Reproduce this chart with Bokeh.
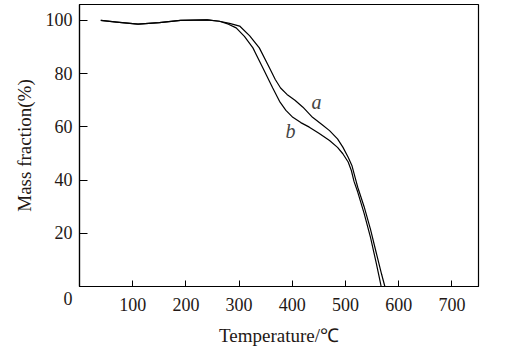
from bokeh.plotting import figure
from bokeh.models import Range1d, FixedTicker, Label
from bokeh.embed import file_html
from bokeh.resources import INLINE

# Curve a
temp_a = [40, 70, 110, 150, 190, 240, 263, 282, 301, 320, 338, 357, 368, 378, 390,
          405, 420, 438, 455, 470, 485, 495, 505, 512, 518, 523, 535, 547, 558, 568, 574]
mass_a = [100, 99.4, 98.6, 99.2, 100, 100.2, 99.7, 98.9, 97.9, 94.2, 89.7, 82.2, 77.8, 74.6, 72.2,
          70, 67.4, 63.6, 61, 58.6, 55.5, 52.4, 48.6, 45.5, 41, 37.3, 30, 21.5, 12.5, 4.5, 0]
# Curve b
temp_b = [40, 70, 110, 150, 190, 240, 263, 280, 294.5, 310, 326, 344.5, 363, 376, 388,
          401, 416, 432, 450, 470, 485, 495, 505, 511, 516, 523, 535, 547, 557, 564, 567]
mass_b = [100, 99.4, 98.6, 99.2, 100, 100.2, 99.7, 98.6, 97.2, 94, 89.7, 82.2, 74.7, 69.6, 66.2,
          63.6, 61.6, 59.9, 57.6, 54.9, 52.3, 49.9, 46.8, 43.6, 39.5, 35.5, 27.5, 18.5, 9.5, 3, 0]

x_ticks = [100, 200, 300, 400, 500, 600, 700]
y_ticks = [0, 20, 40, 60, 80, 100]
origin_label = "\n0"

FONT = "Liberation Serif"
INK = "#231815"

p = figure(width=522, height=356, output_backend="svg", toolbar_location=None,
           x_range=Range1d(0, 750), y_range=Range1d(0, 106),
           min_border_left=79, min_border_right=44, min_border_top=4, min_border_bottom=70)
p.grid.visible = False
p.outline_line_color = "black"
p.outline_line_width = 1.2
p.background_fill_color = "white"
p.border_fill_color = "white"

p.line(temp_a, mass_a, line_color="black", line_width=1.2)
p.line(temp_b, mass_b, line_color="black", line_width=1.2)

for ax in (p.xaxis[0], p.yaxis[0]):
    ax.axis_line_color = "black"
    ax.axis_line_width = 1.2
    ax.major_tick_out = 0
    ax.minor_tick_in = 0
    ax.minor_tick_out = 0
    ax.major_label_text_font = FONT
    ax.major_label_text_font_size = "18px"
    ax.major_label_text_color = INK
    ax.axis_label_text_font = FONT
    ax.axis_label_text_font_size = "19px"
    ax.axis_label_text_font_style = "normal"
    ax.axis_label_text_color = INK

p.xaxis[0].ticker = FixedTicker(ticks=x_ticks)
p.yaxis[0].ticker = FixedTicker(ticks=y_ticks)
p.yaxis[0].major_label_overrides = {0: origin_label}
p.xaxis[0].major_tick_in = 6
p.yaxis[0].major_tick_in = 8
p.xaxis[0].major_label_standoff = 11
p.yaxis[0].major_label_standoff = 7
p.xaxis[0].axis_label = "Temperature/℃"
p.yaxis[0].axis_label = "Mass fraction(%)"
p.xaxis[0].axis_label_standoff = 11
p.yaxis[0].axis_label_standoff = 8

p.add_layout(Label(x=445.5, y=69.5, text="a", text_font=FONT, text_font_size="20px",
                   text_font_style="italic", text_align="center", text_baseline="middle"))
p.add_layout(Label(x=396.6, y=58.3, text="b", text_font=FONT, text_font_size="20px",
                   text_font_style="italic", text_align="center", text_baseline="middle"))

open("out.html", "w").write(file_html(p, INLINE))
